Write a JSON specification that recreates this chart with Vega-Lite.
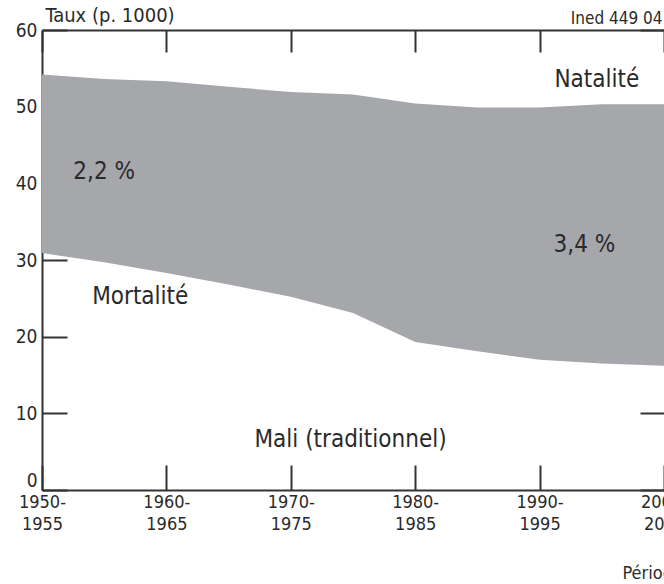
{
  "$schema": "https://vega.github.io/schema/vega-lite/v6.json",
  "autosize": {"type": "none"},
  "width": 622,
  "height": 460,
  "padding": {"left": 42, "top": 30, "right": 0, "bottom": 94},
  "background": "white",
  "config": {
    "view": {"stroke": null},
    "font": "DejaVu Sans Condensed, Liberation Sans, sans-serif",
    "axis": {"grid": false, "zindex": 1, "domainColor": "#333", "domainWidth": 2, "tickColor": "#333", "tickWidth": 2, "labelFont": "DejaVu Sans Condensed, Liberation Sans, sans-serif", "labelColor": "#2a2a2a", "titleFont": "DejaVu Sans Condensed, Liberation Sans, sans-serif", "titleColor": "#2a2a2a", "titleFontWeight": "normal"}
  },
  "datasets": {
    "rates": [
      {"year": 1950, "mort": 30.9, "nat": 54.2},
      {"year": 1955, "mort": 29.7, "nat": 53.6},
      {"year": 1960, "mort": 28.3, "nat": 53.3},
      {"year": 1965, "mort": 26.8, "nat": 52.6},
      {"year": 1970, "mort": 25.2, "nat": 51.9},
      {"year": 1975, "mort": 23.1, "nat": 51.6},
      {"year": 1980, "mort": 19.3, "nat": 50.4},
      {"year": 1985, "mort": 18.1, "nat": 49.9},
      {"year": 1990, "mort": 17.0, "nat": 49.9},
      {"year": 1995, "mort": 16.5, "nat": 50.3},
      {"year": 2000, "mort": 16.2, "nat": 50.3}
    ],
    "labels": [
      {"year": 1994.6, "val": 53.5, "text": "Natalité"},
      {"year": 1955.0, "val": 41.5, "text": "2,2 %"},
      {"year": 1957.9, "val": 25.2, "text": "Mortalité"},
      {"year": 1993.6, "val": 32.0, "text": "3,4 %"},
      {"year": 1974.8, "val": 6.5, "text": "Mali (traditionnel)"}
    ]
  },
  "resolve": {"axis": {"x": "independent", "y": "independent"}},
  "layer": [
    {
      "data": {"name": "rates"},
      "mark": {"type": "area", "color": "#a6a7aa", "opacity": 1},
      "encoding": {
        "x": {"field": "year", "type": "quantitative", "scale": {"domain": [1950, 2000], "nice": false, "zero": false},
          "axis": {"orient": "bottom", "values": [1950, 1960, 1970, 1980, 1990, 2000], "tickSize": -25, "labelPadding": 28, "labelFontSize": 18, "labelExpr": "[datum.value + '-', '' + (datum.value + 5)]", "labelLineHeight": 22, "labelOverlap": false, "labelFlush": false,
            "title": "Période", "titleFontSize": 18, "titleX": 580, "titleY": 88, "titleAlign": "left", "titleBaseline": "alphabetic"}},
        "y": {"field": "mort", "type": "quantitative", "scale": {"domain": [0, 60], "nice": false},
          "axis": {"orient": "left", "values": [0, 10, 20, 30, 40, 50, 60], "tickSize": -25, "labelPadding": 30, "labelFontSize": 19,
            "labelBaseline": {"condition": {"test": "datum.value == 0", "value": "bottom"}, "value": "middle"},
            "title": "Taux (p. 1000)", "titleAngle": 0, "titleFontSize": 20, "titleX": 3, "titleY": -9, "titleAlign": "left", "titleBaseline": "alphabetic"}},
        "y2": {"field": "nat"}
      }
    },
    {
      "data": {"name": "labels"},
      "mark": {"type": "text", "fontSize": 24, "color": "#2a2a2a"},
      "encoding": {
        "x": {"field": "year", "type": "quantitative",
          "axis": {"orient": "top", "values": [1950, 1960, 1970, 1980, 1990, 2000], "tickSize": -22, "labels": false,
            "title": "Ined 449 04", "titleFontSize": 17, "titleX": 620, "titleY": -7, "titleAlign": "right", "titleBaseline": "alphabetic"}},
        "y": {"field": "val", "type": "quantitative",
          "axis": {"orient": "right", "values": [0, 10, 20, 30, 40, 50, 60], "tickSize": -24, "labels": false, "domain": false, "title": null}},
        "text": {"field": "text"}
      }
    }
  ]
}
